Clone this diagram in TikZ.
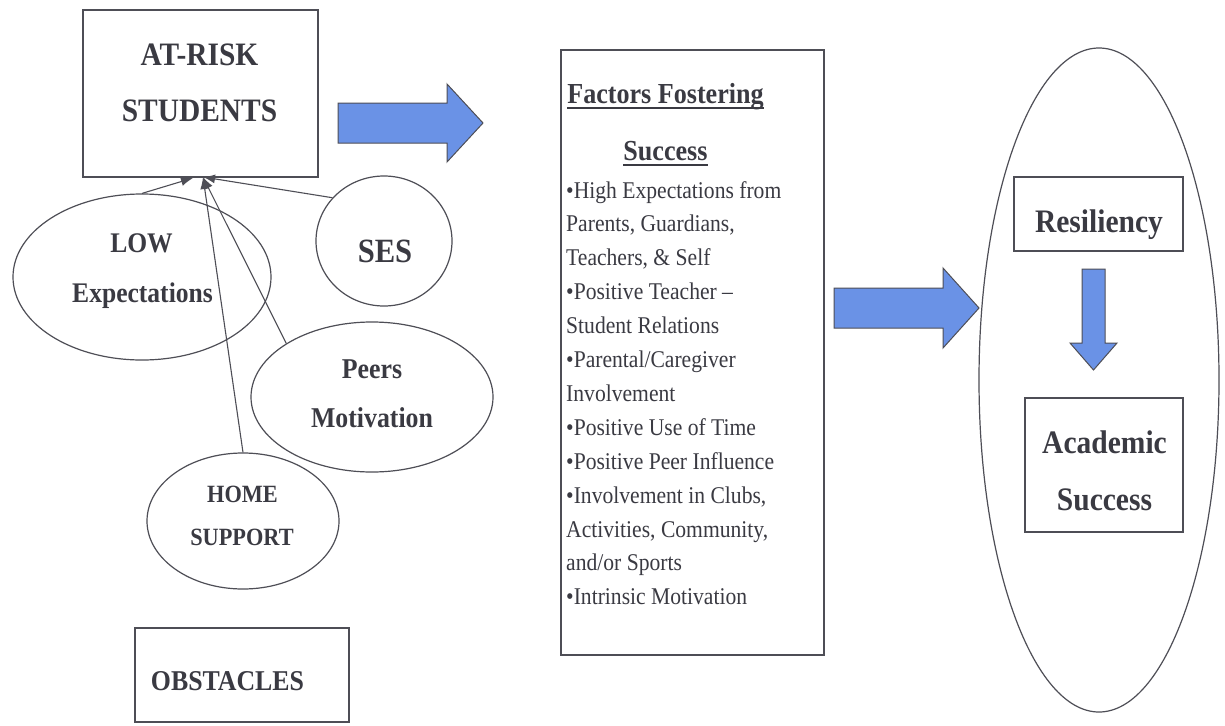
\documentclass[tikz,border=0pt]{standalone}
\usepackage{fontspec}
\setmainfont{Liberation Serif}[FakeStretch=0.9]
\usetikzlibrary{arrows.meta,shapes.geometric}

\definecolor{ink}{HTML}{3A3A42}
\definecolor{edge}{HTML}{4E4E56}
\definecolor{arrowblue}{HTML}{6A92E6}

% bold text at a given size
\newcommand{\bsize}[1]{\fontsize{#1}{#1}\selectfont\bfseries}

\begin{document}
\begin{tikzpicture}[x=1pt,y=-1pt,
  box/.style={draw=edge,line width=1.4pt,inner sep=0pt,rectangle},
  oval/.style={draw=edge,line width=1.2pt,ellipse,inner sep=0pt},
  lbl/.style={text=ink,inner sep=0pt,anchor=base},
  body/.style={text=ink,inner sep=0pt,anchor=base west,font=\fontsize{24}{24}\selectfont},
  blockarrow/.style={fill=arrowblue,draw=edge,line width=1pt,line join=miter},
  link/.style={draw=edge,line width=1.1pt,-{Latex[length=12pt,width=9pt]}},
  uline/.style={draw=ink,line width=1.6pt}]

\fill[white] (0,0) rectangle (1225,725);
\useasboundingbox (0,0) rectangle (1225,725);

% ---------- at-risk students and the obstacles around them ----------
\node[box,minimum width=235pt,minimum height=167pt] (atrisk) at (200.5,93.5) {};
\node[lbl,font=\bsize{32.7}] (atriskA) at (199.5,65) {AT-RISK};
\node[lbl,font=\bsize{32.7}] (atriskB) at (199.5,121) {STUDENTS};

\node[oval,minimum width=258pt,minimum height=166pt] (low) at (142,277) {};
\node[lbl,font=\bsize{28.4}] (lowA) at (141.5,252) {LOW};
\node[lbl,font=\bsize{28.4}] (lowB) at (142.5,302) {Expectations};

\node[oval,minimum width=136pt,minimum height=130pt] (ses) at (384,241) {};
\node[lbl,font=\bsize{34}] (sesA) at (385,262) {SES};

\node[oval,minimum width=242pt,minimum height=150pt] (peers) at (372,397) {};
\node[lbl,font=\bsize{28.7}] (peersA) at (372,378) {Peers};
\node[lbl,font=\bsize{28.7}] (peersB) at (372,427) {Motivation};

\node[oval,minimum width=192pt,minimum height=136pt] (home) at (243,521) {};
\node[lbl,font=\bsize{24.8}] (homeA) at (242.5,502) {HOME};
\node[lbl,font=\bsize{24.8}] (homeB) at (242,545) {SUPPORT};

\node[box,minimum width=214pt,minimum height=94pt] (obst) at (242,675) {};
\node[lbl,font=\bsize{28.7}] (obstA) at (227.5,690) {OBSTACLES};

% obstacles converge on the bottom of the at-risk box
\coordinate (hub) at (203,177);
\coordinate (hubL) at (193,178);
\draw[link] (low.north) -- (hubL);
\draw[link] (ses.140) -- (hub);
\draw[link] (peers.148) -- (hub);
\draw[link] (home.north) -- (hub);

% ---------- block arrow into the factors ----------
\draw[blockarrow] (338,103) -- (447,103) -- (447,84) -- (483,123)
  -- (447,162) -- (447,143) -- (338,143) -- cycle;

% ---------- factors fostering success ----------
\node[box,minimum width=263pt,minimum height=605pt] (factors) at (692.5,352.5) {};
\node[lbl,font=\bsize{29}] (headA) at (665.5,103) {Factors Fostering};
\node[lbl,font=\bsize{29}] (headB) at (665.5,160) {Success};
\draw[uline] ([yshift=-5pt]headA.base west) -- ([yshift=-5pt]headA.base east);
\draw[uline] ([yshift=-5pt]headB.base west) -- ([yshift=-5pt]headB.base east);

\foreach \t [count=\i from 0] in {
  {•High Expectations from},
  {Parents, Guardians,},
  {Teachers, \& Self},
  {•Positive Teacher –},
  {Student Relations},
  {•Parental/Caregiver},
  {Involvement},
  {•Positive Use of Time},
  {•Positive Peer Influence},
  {•Involvement in Clubs,},
  {Activities, Community,},
  {and/or Sports},
  {•Intrinsic Motivation}}
  \node[body] (item\i) at (566,{198+33.9*\i}) {\t};

% ---------- block arrow into the outcomes ----------
\draw[blockarrow] (834,288) -- (943,288) -- (943,268) -- (979,308)
  -- (943,348) -- (943,328) -- (834,328) -- cycle;

% ---------- outcomes ----------
\node[oval,minimum width=240pt,minimum height=664pt] (outcome) at (1099,380) {};

\node[box,minimum width=169pt,minimum height=74pt] (resil) at (1098.5,214) {};
\node[lbl,font=\bsize{32.8}] (resilA) at (1099,232) {Resiliency};

\draw[blockarrow] (1082,269) -- (1105,269) -- (1105,343) -- (1117,343)
  -- (1093.5,370) -- (1070,343) -- (1082,343) -- cycle;

\node[box,minimum width=158pt,minimum height=134pt] (acad) at (1104,465) {};
\node[lbl,font=\bsize{32.8}] (acadA) at (1104.5,453) {Academic};
\node[lbl,font=\bsize{32.8}] (acadB) at (1104.5,510) {Success};

\end{tikzpicture}
\end{document}
